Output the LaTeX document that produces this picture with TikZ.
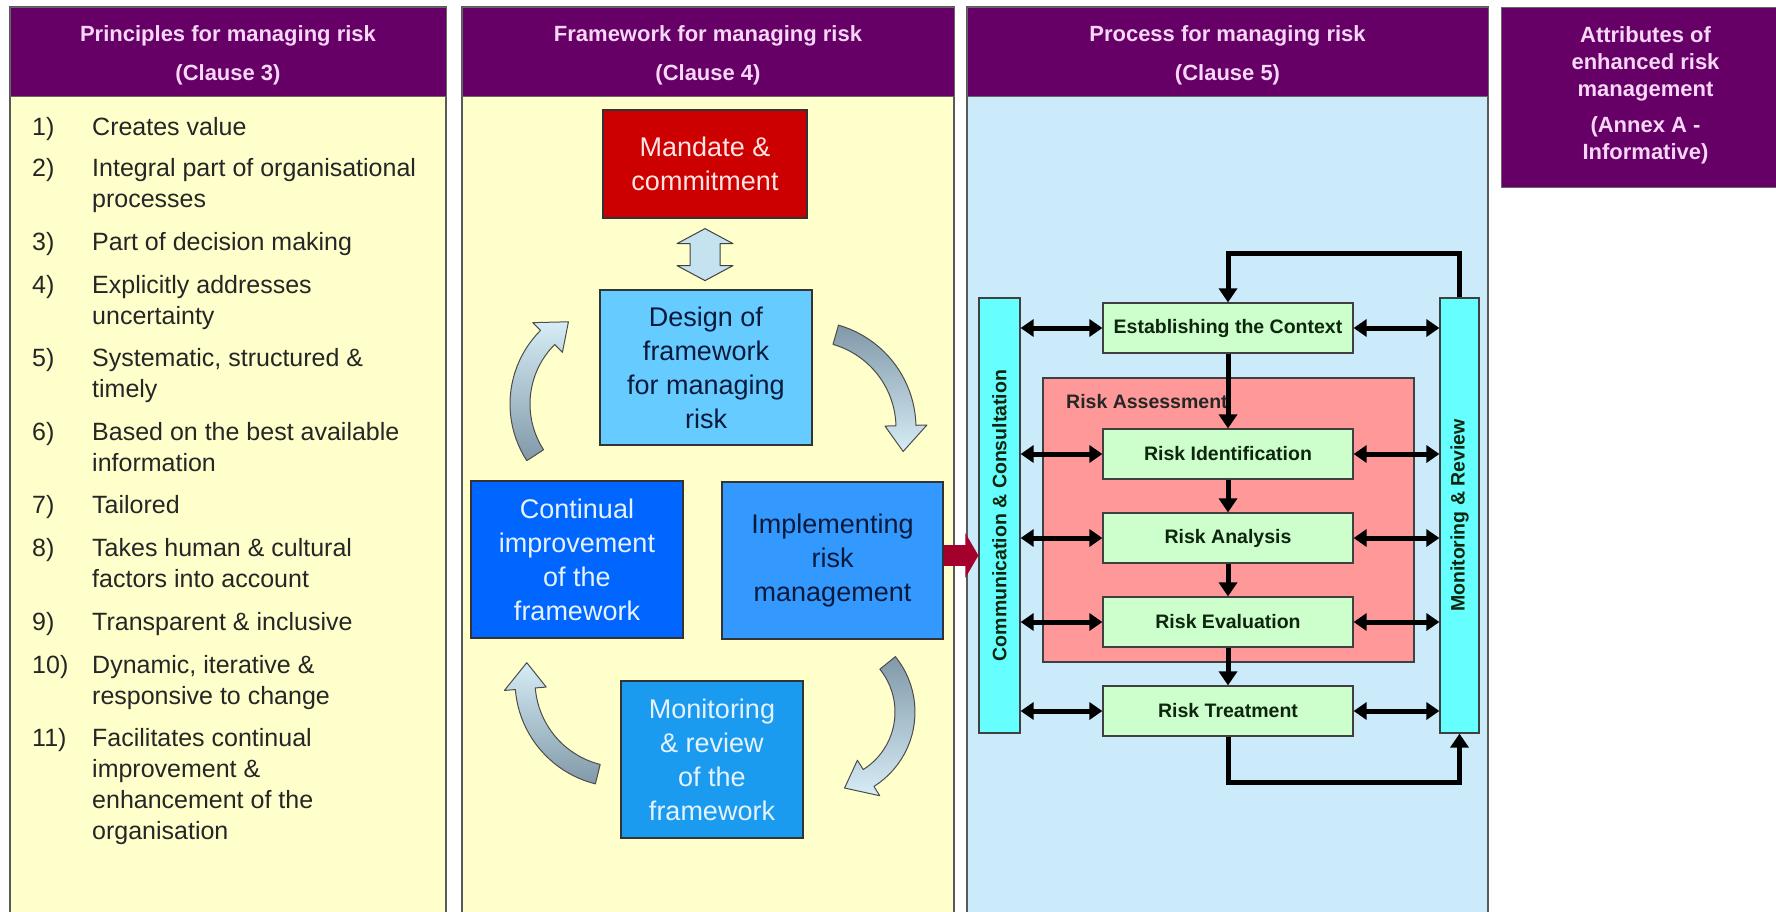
\documentclass[tikz,border=0pt]{standalone}
\usepackage{fontspec}
\setmainfont{Liberation Sans}
\usepackage{tikz}
\usetikzlibrary{arrows.meta,positioning,calc}

\definecolor{headpurple}{HTML}{660066}
\definecolor{headtext}{HTML}{F7D6F7}
\definecolor{paleyellow}{HTML}{FFFFCC}
\definecolor{paleblue}{HTML}{CCEBFA}
\definecolor{mandred}{HTML}{CC0000}
\definecolor{mandtext}{HTML}{FFE4E4}
\definecolor{designblue}{HTML}{66CCFF}
\definecolor{improveblue}{HTML}{0066FF}
\definecolor{implblue}{HTML}{3399FF}
\definecolor{monblue}{HTML}{1A9BEF}
\definecolor{navytext}{HTML}{0A1A3C}
\definecolor{lighttext}{HTML}{E6F3FF}
\definecolor{feedred}{HTML}{A3002B}
\definecolor{barcyan}{HTML}{66FFFF}
\definecolor{stepgreen}{HTML}{CCFFCC}
\definecolor{assesspink}{HTML}{FF9999}
\definecolor{textgreen}{HTML}{0D260D}
\definecolor{arrowlight}{HTML}{D6ECF6}
\definecolor{arrowgray}{HTML}{8199A8}
\definecolor{bifill}{HTML}{C4E2F0}

\tikzset{
  colbody/.style={draw=black!65, line width=1.2pt},
  colhead/.style={fill=headpurple, draw=black!60, line width=1pt},
  headtxt/.style={text=headtext, align=center, inner sep=0pt,
    font=\bfseries\fontsize{22}{39}\selectfont},
  item/.style={anchor=north west, inner sep=0pt, align=left, text=black!85,
    font=\fontsize{25}{31}\selectfont},
  fwbox/.style={draw=black!80, line width=1.2pt, align=center, inner sep=0pt,
    font=\fontsize{27}{34}\selectfont},
  biarrow/.style={draw=black!75, fill=bifill, line width=1pt, line join=round},
  stepbox/.style={draw=black!75, fill=stepgreen, line width=1.2pt, minimum width=250pt,
    minimum height=50pt, inner sep=0pt, text=textgreen, font=\bfseries\fontsize{19.5}{22}\selectfont},
  assessbox/.style={draw=black!75, fill=assesspink, line width=1.2pt, minimum width=371pt,
    minimum height=284pt},
  sidebar/.style={draw=black!75, fill=barcyan, line width=1.2pt, minimum height=435pt},
  bartext/.style={rotate=90, inner sep=0pt, text=textgreen, font=\bfseries\fontsize{19.5}{22}\selectfont},
  link/.style={line width=5pt, {Triangle[length=13pt,width=17pt]}-{Triangle[length=13pt,width=17pt]}},
  flow/.style={line width=5pt, -{Triangle[length=14pt,width=18pt]}},
  feed/.style={draw=feedred, line width=21pt, -{Triangle[length=13pt,width=44pt]}}
}

% bent block arrow on a circle: centre x, centre y, radius, tail angle, tip angle, shading
\newcommand{\cyclearrow}[6]{%
  \pgfmathsetmacro\neck{#5-1500/#3}
  \shade[draw=black!70, line width=1pt, line join=round, #6]
    plot[domain=#4:\neck, samples=24, variable=\t] ({#1+(#3+10)*cos(\t)}, {#2+(#3+10)*sin(\t)})
    -- ({#1+(#3+21)*cos(\neck)}, {#2+(#3+21)*sin(\neck)})
    -- ({#1+#3*cos(#5)}, {#2+#3*sin(#5)})
    -- ({#1+(#3-21)*cos(\neck)}, {#2+(#3-21)*sin(\neck)})
    -- plot[domain=#4:\neck, samples=24, variable=\t] ({#1+(#3-10)*cos(#4+\neck-\t)}, {#2+(#3-10)*sin(#4+\neck-\t)})
    -- cycle;
}

\begin{document}
\begin{tikzpicture}[x=1pt,y=-1pt]
\useasboundingbox (0,0) rectangle (1776,911);
\fill[white] (0,0) rectangle (1776,911);

%%%%% columns:
\draw[colbody, fill=paleyellow] (10,7) rectangle (446,925);
\draw[colbody, fill=paleyellow] (462,7) rectangle (954,925);
\draw[colbody, fill=paleblue] (967,7) rectangle (1488,925);

\draw[colhead] (10,7) rectangle (446,96);
\draw[colhead] (462,7) rectangle (954,96);
\draw[colhead] (967,7) rectangle (1488,96);
\draw[colhead] (1501,7) rectangle (1790,187);
\node[headtxt] (head3) at (228,55) {Principles for managing risk\\(Clause 3)};
\node[headtxt] (head4) at (708,55) {Framework for managing risk\\(Clause 4)};
\node[headtxt] (head5) at (1227.5,55) {Process for managing risk\\(Clause 5)};
\node[headtxt, font=\bfseries\fontsize{22}{27}\selectfont] (annex) at (1645.5,95)
  {Attributes of\\enhanced risk\\management\\[9pt](Annex A -\\Informative)};

%%%%% principles:
\foreach \yy/\num/\txt in {114/1/{Creates value},
                           155/2/{Integral part of organisational\\processes},
                           229/3/{Part of decision making},
                           272/4/{Explicitly addresses\\uncertainty},
                           345/5/{Systematic, structured \&\\timely},
                           419/6/{Based on the best available\\information},
                           492/7/{Tailored},
                           535/8/{Takes human \& cultural\\factors into account},
                           609/9/{Transparent \& inclusive},
                           652/10/{Dynamic, iterative \&\\responsive to change},
                           725/11/{Facilitates continual\\improvement \&\\enhancement of the\\organisation}}{
  \node[item] (p\num) at (92,\yy) {\strut\txt};
  \node[item] (n\num) at (32,\yy) {\strut\num)};
}

%%%%% framework:
\node[fwbox, fill=mandred, text=mandtext, minimum width=204pt, minimum height=108pt] (mandate) at (705,164) {Mandate \&\\commitment};
\node[fwbox, fill=designblue, text=navytext, minimum width=212pt, minimum height=155pt] (design) at (706,367.5) {Design of\\framework\\for managing\\risk};
\node[fwbox, fill=improveblue, text=lighttext, minimum width=212pt, minimum height=157pt] (improve) at (577,559.5) {Continual\\improvement\\of the\\framework};
\node[fwbox, fill=implblue, text=navytext, minimum width=221pt, minimum height=157pt] (implement) at (832.5,560.5) {Implementing\\risk\\management};
\node[fwbox, fill=monblue, text=lighttext, minimum width=182pt, minimum height=157pt] (monitor) at (712,759.5) {Monitoring\\\& review\\of the\\framework};

\draw[biarrow] ($(mandate.south)+(0,10)$) -- ++(28,15) -- ++(-13,0) -- ++(0,22) -- ++(13,0) -- ++(-28,15)
  -- ++(-28,-15) -- ++(13,0) -- ++(0,-22) -- ++(-13,0) -- cycle;

\cyclearrow{614}{404}{94}{147}{241}{top color=arrowlight, bottom color=arrowgray}
\cyclearrow{809}{428}{97}{-74}{14}{top color=arrowgray, bottom color=arrowlight}
\cyclearrow{827}{712}{78}{-39}{77}{top color=arrowgray, bottom color=arrowlight}
\cyclearrow{621}{681}{96}{104}{191}{top color=arrowlight, bottom color=arrowgray}

%%%%% process:
\node[assessbox] (assess) at (1228.5,520) {};
\node[anchor=west, inner sep=0pt, text=black!85, font=\bfseries\fontsize{19.5}{22}\selectfont] (assesslbl) at (1066,402) {Risk Assessment};

\node[stepbox] (context) at (1228,328) {Establishing the Context};
\node[stepbox] (ident) at (1228,454) {Risk Identification};
\node[stepbox] (analysis) at (1228,538) {Risk Analysis};
\node[stepbox] (evaluation) at (1228,622) {Risk Evaluation};
\node[stepbox] (treatment) at (1228,711) {Risk Treatment};

\node[sidebar, minimum width=41pt] (comm) at (999.5,515.5) {};
\node[sidebar, minimum width=39pt] (review) at (1459.5,515.5) {};
\node[bartext] (commtxt) at (comm) {Communication \& Consultation};
\node[bartext] (reviewtxt) at (review) {Monitoring \& Review};

\foreach \s in {context,ident,analysis,evaluation,treatment}{
  \draw[link] (comm.east |- \s) -- (\s.west);
  \draw[link] (\s.east) -- (review.west |- \s);
}
\draw[flow] (context) -- (ident);
\draw[flow] (ident) -- (analysis);
\draw[flow] (analysis) -- (evaluation);
\draw[flow] (evaluation) -- (treatment);
\draw[flow] (review.north) -- ++(0,-44) -| (context.north);
\draw[flow] (treatment.south) -- ++(0,46) -| (review.south);

\coordinate (feedstart) at ([yshift=5pt]implement.east);
\draw[feed] (feedstart) -- (feedstart -| comm.west);
\end{tikzpicture}
\end{document}
